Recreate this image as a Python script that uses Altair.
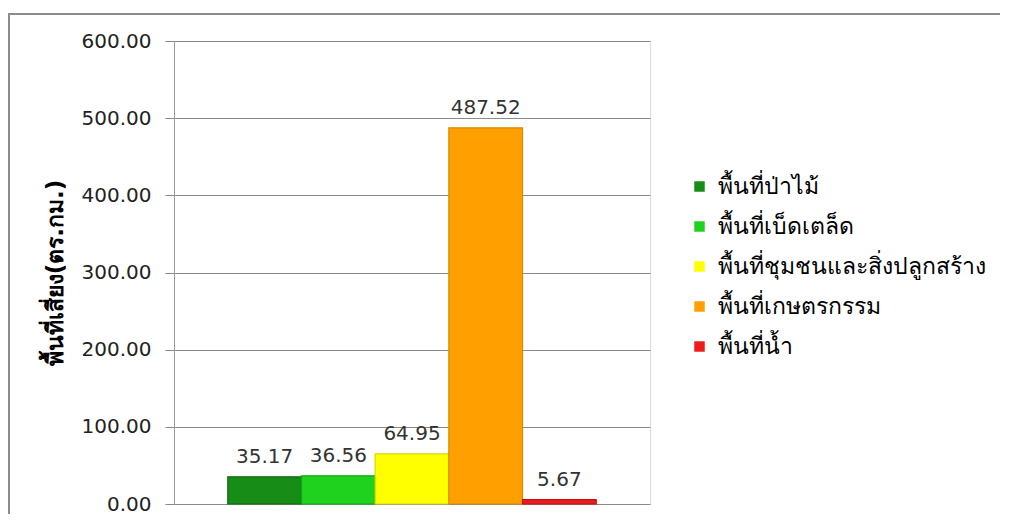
import altair as alt
import pandas as pd

categories = ["พื้นที่ป่าไม้", "พื้นที่เบ็ดเตล็ด", "พื้นที่ชุมชนและสิ่งปลูกสร้าง", "พื้นที่เกษตรกรรม", "พื้นที่น้ำ"]
values = [35.17, 36.56, 64.95, 487.52, 5.67]
colors = ["#178c17", "#1ed21e", "#ffff00", "#ffa000", "#ee1c1c"]
strokes = ["#0e6a0e", "#12a812", "#d8d800", "#d98a00", "#c01010"]

df = pd.DataFrame({"cat": categories, "val": values, "lbl": [f"{v:.2f}" for v in values]})

FONT = "DejaVu Sans"

x = alt.X("cat:N", sort=categories, axis=None,
          scale=alt.Scale(paddingInner=0, paddingOuter=0.73))
y = alt.Y("val:Q", scale=alt.Scale(domain=[0, 600]),
          axis=alt.Axis(values=[0, 100, 200, 300, 400, 500, 600], format=".2f",
                        title="พื้นที่เสี่ยง(ตร.กม.)", titleFontSize=23, titleFontWeight="bold",
                        titleColor="#000", titleFont=FONT, titlePadding=14,
                        labelFont=FONT, labelFontSize=20, labelColor="#222", labelPadding=14,
                        tickSize=9, tickColor="#888", domainColor="#999",
                        gridColor="#8a8a8a", gridWidth=1))

bars = alt.Chart(df).mark_bar(strokeWidth=1.2).encode(
    x=x, y=y,
    color=alt.Color("cat:N", sort=categories,
                    scale=alt.Scale(domain=categories, range=colors),
                    legend=alt.Legend(title=None, orient="none", legendX=514, legendY=134,
                                      symbolType="square", symbolSize=110, symbolStrokeWidth=0,
                                      labelFont=FONT, labelFontSize=23, labelColor="#000",
                                      rowPadding=16, labelOffset=7, labelLimit=400)),
    stroke=alt.Stroke("cat:N", sort=categories,
                      scale=alt.Scale(domain=categories, range=strokes), legend=None),
)

text = alt.Chart(df).mark_text(dy=-20, font=FONT, fontSize=20, color="#333").encode(
    x=x, y=alt.Y("val:Q"), text="lbl:N")

border = alt.Chart(df).mark_rect(fill=None, stroke="#8c8c8c", strokeWidth=2, clip=False).encode(
    x=alt.value(-165), x2=alt.value(1000), y=alt.value(-27), y2=alt.value(560))

chart = alt.layer(border, bars, text).properties(
    width=476, height=463,
    autosize=alt.AutoSizeParams(type="none"),
    padding={"left": 166, "top": 33, "right": 350, "bottom": 10},
).configure_view(stroke=None).configure(background="white")

chart.save("out.html", embed_options={"renderer": "svg", "actions": False})
